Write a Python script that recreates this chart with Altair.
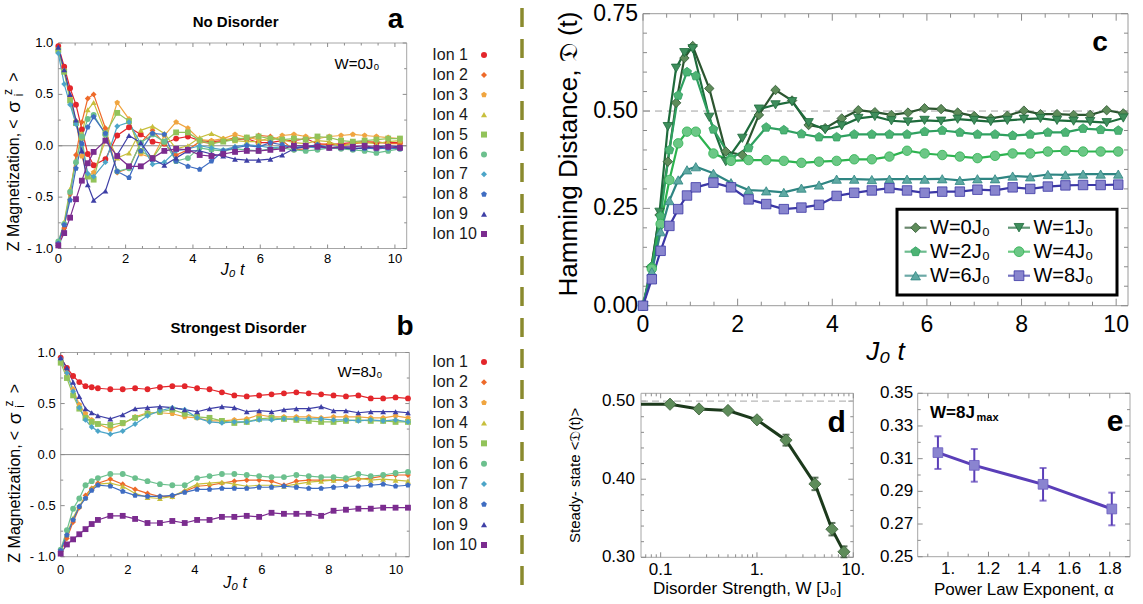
import altair as alt
import pandas as pd

FONT = "Liberation Sans"
W_PAGE, H_PAGE = 1143, 604

# ------------------------------------------------------------------ data
t_a = [0, 0.175, 0.35, 0.525, 0.7, 0.875, 1.05, 1.4, 1.75, 2.1, 2.45, 2.8, 3.15, 3.5, 3.85, 4.2,
       4.55, 4.9, 5.25, 5.6, 5.95, 6.3, 6.65, 7.0, 7.35, 7.7, 8.05, 8.4, 8.75, 9.1, 9.45, 9.8, 10.15]
t_b = [0, 0.185, 0.37, 0.555, 0.74, 0.925, 1.11, 1.48, 1.85, 2.22, 2.59, 2.96, 3.33, 3.70, 4.07, 4.44,
       4.81, 5.18, 5.55, 5.92, 6.29, 6.66, 7.03, 7.40, 7.77, 8.14, 8.51, 8.88, 9.25, 9.62, 9.99, 10.36]
t_c = [0, 0.186, 0.372, 0.558, 0.744, 0.93, 1.116, 1.488, 1.86, 2.232, 2.604, 2.976, 3.348, 3.72,
       4.092, 4.464, 4.836, 5.208, 5.58, 5.952, 6.324, 6.696, 7.068, 7.44, 7.812, 8.184, 8.556, 8.928,
       9.3, 9.672, 10.044]

ion_names = ["Ion 1", "Ion 2", "Ion 3", "Ion 4", "Ion 5", "Ion 6", "Ion 7", "Ion 8", "Ion 9", "Ion 10"]

# panel a : no disorder (W = 0 J0)
a_ion1 = [0.97, 0.77, 0.56, 0.40, 0.16, -0.08, -0.19, -0.13, 0.10, 0.18, 0.11, 0.04, 0.02, 0.07, 0.09, 0.05, 0.04,
          0.05, 0.06, 0.07, 0.03, 0.03, 0.05, 0.05, 0.07, 0.02, 0.01, 0.02, 0.03, 0.04, 0.03, 0.03, 0.03]
a_ion2 = [-0.97, -0.80, -0.47, -0.09, 0.23, 0.46, 0.50, 0.17, -0.26, -0.22, 0.03, 0.15, 0.02, -0.09, -0.04, 0.04, 0.02,
          0.05, 0.08, 0.06, 0.10, 0.09, 0.05, -0.04, -0.03, 0.01, 0.02, 0.01, 0.02, 0.03, 0.04, 0.02, 0.02]
a_ion3 = [0.92, 0.73, 0.47, 0.24, -0.10, -0.30, -0.26, 0.05, 0.42, 0.26, -0.08, -0.12, 0.10, 0.23, 0.17, 0.06, 0.05,
          0.07, 0.11, 0.08, 0.06, 0.05, 0.10, 0.11, 0.09, 0.07, 0.09, 0.10, 0.11, 0.10, 0.09, 0.08, 0.07]
a_ion4 = [-0.95, -0.74, -0.42, -0.15, 0.12, 0.35, 0.42, 0.13, -0.12, -0.07, 0.15, 0.19, 0.12, -0.03, 0.00, 0.08, 0.12,
          0.07, 0.05, 0.04, 0.04, 0.08, 0.06, 0.03, 0.02, 0.05, 0.04, -0.01, 0.03, 0.03, 0.02, 0.04, 0.05]
a_ion5 = [0.93, 0.72, 0.44, 0.22, 0.08, -0.30, -0.33, 0.12, 0.32, 0.24, -0.05, -0.12, 0.04, 0.13, 0.13, 0.05, 0.02,
          0.04, 0.06, 0.08, 0.09, 0.07, 0.06, 0.07, 0.06, 0.09, 0.08, 0.05, 0.04, 0.05, 0.06, 0.07, 0.07]
a_ion6 = [-0.93, -0.76, -0.45, -0.16, 0.09, 0.26, 0.30, 0.11, -0.25, -0.22, 0.03, 0.11, 0.04, -0.15, -0.12, -0.02, -0.04,
          -0.05, -0.03, -0.04, -0.05, -0.03, -0.02, -0.04, -0.05, -0.04, -0.02, -0.03, -0.04, -0.05, -0.07, -0.05, -0.03]
a_ion7 = [0.90, 0.60, 0.40, 0.21, 0.01, -0.27, -0.30, -0.16, 0.19, 0.23, 0.02, -0.18, -0.16, -0.05, -0.03, 0.00, -0.02,
          -0.04, -0.01, 0.01, 0.00, -0.02, -0.01, 0.00, -0.01, -0.02, -0.02, -0.01, -0.02, -0.03, -0.02, -0.03, -0.02]
a_ion8 = [-0.95, -0.77, -0.53, -0.22, 0.02, 0.18, 0.28, 0.12, -0.25, -0.31, -0.05, 0.12, 0.11, -0.15, -0.20, -0.23, -0.15,
          -0.05, -0.02, 0.00, -0.01, 0.03, 0.01, -0.02, -0.01, 0.01, -0.02, -0.01, -0.03, -0.02, -0.03, -0.02, -0.03]
a_ion9 = [0.96, 0.74, 0.50, 0.25, -0.05, -0.38, -0.53, -0.44, -0.09, 0.10, 0.03, -0.13, -0.19, -0.12, -0.05, -0.05, -0.08,
          -0.10, -0.13, -0.14, -0.14, -0.13, -0.09, -0.03, -0.01, 0.00, -0.02, -0.02, -0.03, -0.02, -0.01, 0.00, -0.01]
a_ion10 = [-0.97, -0.85, -0.70, -0.52, -0.34, -0.17, -0.06, 0.05, -0.10, -0.20, -0.20, -0.12, -0.05, -0.03, -0.04, -0.09,
           -0.10, -0.08, -0.06, -0.05, -0.05, -0.04, -0.03, 0.00, 0.00, -0.01, -0.02, -0.01, -0.01, 0.00, -0.02, -0.01, -0.02]

# panel b : strongest disorder (W = 8 J0)
b_ion1 = [0.95, 0.85, 0.77, 0.71, 0.67, 0.66, 0.65, 0.64, 0.64, 0.65, 0.64, 0.66, 0.67, 0.67, 0.65, 0.64,
          0.61, 0.58, 0.57, 0.58, 0.59, 0.60, 0.61, 0.60, 0.59, 0.58, 0.57, 0.58, 0.55, 0.55, 0.56, 0.55]
b_ion2 = [-0.95, -0.82, -0.66, -0.52, -0.40, -0.33, -0.28, -0.24, -0.29, -0.34, -0.38, -0.41, -0.41, -0.36, -0.31, -0.30,
          -0.28, -0.26, -0.25, -0.25, -0.26, -0.30, -0.26, -0.25, -0.25, -0.25, -0.25, -0.24, -0.23, -0.21, -0.20, -0.20]
b_ion3 = [0.92, 0.80, 0.64, 0.49, 0.40, 0.34, 0.30, 0.25, 0.30, 0.37, 0.41, 0.41, 0.40, 0.37, 0.36, 0.33,
          0.33, 0.34, 0.35, 0.39, 0.37, 0.37, 0.37, 0.37, 0.36, 0.37, 0.37, 0.37, 0.36, 0.36, 0.38, 0.36]
b_ion4 = [-0.93, -0.78, -0.62, -0.50, -0.42, -0.33, -0.29, -0.28, -0.31, -0.38, -0.42, -0.43, -0.41, -0.35, -0.29, -0.28,
          -0.27, -0.29, -0.31, -0.30, -0.30, -0.31, -0.29, -0.27, -0.26, -0.25, -0.24, -0.23, -0.25, -0.24, -0.25, -0.26]
b_ion5 = [0.90, 0.75, 0.58, 0.45, 0.36, 0.32, 0.30, 0.29, 0.31, 0.36, 0.40, 0.42, 0.44, 0.40, 0.37, 0.36,
          0.33, 0.31, 0.32, 0.35, 0.36, 0.35, 0.34, 0.33, 0.32, 0.32, 0.33, 0.34, 0.33, 0.33, 0.32, 0.32]
b_ion6 = [-0.93, -0.74, -0.53, -0.43, -0.30, -0.26, -0.23, -0.19, -0.19, -0.23, -0.26, -0.29, -0.30, -0.30, -0.23, -0.21,
          -0.19, -0.19, -0.20, -0.21, -0.22, -0.22, -0.20, -0.21, -0.22, -0.22, -0.23, -0.19, -0.21, -0.20, -0.18, -0.17]
b_ion7 = [0.94, 0.80, 0.62, 0.46, 0.34, 0.27, 0.23, 0.20, 0.23, 0.30, 0.38, 0.43, 0.46, 0.44, 0.36, 0.32,
          0.31, 0.32, 0.32, 0.34, 0.34, 0.35, 0.35, 0.35, 0.35, 0.34, 0.34, 0.33, 0.34, 0.33, 0.34, 0.32]
b_ion8 = [-0.94, -0.79, -0.64, -0.51, -0.43, -0.35, -0.30, -0.31, -0.36, -0.40, -0.41, -0.41, -0.40, -0.37, -0.34, -0.34,
          -0.33, -0.33, -0.33, -0.32, -0.32, -0.31, -0.32, -0.33, -0.33, -0.32, -0.31, -0.31, -0.30, -0.29, -0.31, -0.30]
b_ion9 = [0.95, 0.85, 0.71, 0.57, 0.45, 0.41, 0.38, 0.35, 0.39, 0.45, 0.46, 0.47, 0.46, 0.44, 0.42, 0.45,
          0.47, 0.46, 0.42, 0.43, 0.42, 0.44, 0.45, 0.45, 0.47, 0.43, 0.43, 0.41, 0.42, 0.42, 0.42, 0.41]
b_ion10 = [-0.97, -0.88, -0.83, -0.78, -0.73, -0.68, -0.64, -0.60, -0.60, -0.63, -0.67, -0.67, -0.65, -0.67, -0.64, -0.64,
           -0.61, -0.61, -0.60, -0.61, -0.57, -0.58, -0.58, -0.58, -0.60, -0.55, -0.54, -0.53, -0.53, -0.52, -0.52, -0.52]

# panel c : Hamming distance
c_W0 = [0, 0.10, 0.233, 0.37, 0.521, 0.636, 0.667, 0.558, 0.396, 0.387, 0.49, 0.554, 0.527, 0.464, 0.456, 0.481, 0.502,
        0.497, 0.49, 0.496, 0.507, 0.505, 0.496, 0.487, 0.481, 0.488, 0.501, 0.492, 0.492, 0.49, 0.49, 0.502, 0.494]
c_W1 = [0, 0.09, 0.24, 0.46, 0.61, 0.65, 0.66, 0.484, 0.37, 0.43, 0.505, 0.516, 0.524, 0.47, 0.452, 0.462, 0.481,
        0.486, 0.475, 0.472, 0.476, 0.474, 0.479, 0.476, 0.473, 0.476, 0.479, 0.481, 0.476, 0.474, 0.473, 0.47, 0.482]
c_W2 = [0, 0.10, 0.23, 0.40, 0.54, 0.60, 0.59, 0.453, 0.379, 0.405, 0.458, 0.451, 0.441, 0.433, 0.433, 0.44,
        0.44, 0.44, 0.44, 0.447, 0.45, 0.445, 0.44, 0.44, 0.437, 0.44, 0.445, 0.445, 0.455, 0.452, 0.45]
c_W4 = [0, 0.095, 0.21, 0.323, 0.417, 0.447, 0.447, 0.391, 0.372, 0.374, 0.374, 0.372, 0.367, 0.37, 0.372, 0.376,
        0.376, 0.383, 0.398, 0.391, 0.387, 0.383, 0.379, 0.385, 0.391, 0.391, 0.396, 0.398, 0.396, 0.396, 0.396]
c_W6 = [0, 0.087, 0.19, 0.27, 0.323, 0.349, 0.357, 0.34, 0.316, 0.297, 0.295, 0.291, 0.302, 0.31, 0.325, 0.325,
        0.324, 0.325, 0.325, 0.325, 0.326, 0.322, 0.326, 0.326, 0.333, 0.331, 0.337, 0.336, 0.338, 0.338, 0.338]
c_W8 = [0.0, 0.068, 0.141, 0.205, 0.248, 0.283, 0.304, 0.316, 0.304, 0.273, 0.261, 0.248, 0.252, 0.259, 0.282, 0.29,
        0.296, 0.302, 0.296, 0.29, 0.293, 0.293, 0.298, 0.296, 0.304, 0.30, 0.306, 0.309, 0.31, 0.31, 0.311]
c_labels = ["W=0J₀", "W=1J₀", "W=2J₀", "W=4J₀", "W=6J₀", "W=8J₀"]

# panel d : steady state vs disorder strength
d_W = [0.125, 0.25, 0.5, 1, 2, 4, 6, 8]
d_D = [0.496, 0.490, 0.488, 0.476, 0.450, 0.394, 0.336, 0.307]
d_err = [0.002, 0.002, 0.002, 0.003, 0.007, 0.008, 0.008, 0.007]
d_W0_value = 0.496          # W = 0 value, drawn from the left edge of the log axis

# panel e : steady state vs power law exponent
e_alpha = [0.95, 1.13, 1.47, 1.81]
e_D = [0.3137, 0.3059, 0.2943, 0.2792]
e_err = [0.010, 0.010, 0.010, 0.010]

# tick values / labels
ab_xticks = [0, 2, 4, 6, 8, 10]
ab_xminor = [0.5, 1, 1.5, 2.5, 3, 3.5, 4.5, 5, 5.5, 6.5, 7, 7.5, 8.5, 9, 9.5]
ab_yticks = [-1, -0.5, 0, 0.5, 1]
ab_yminor = [-0.75, -0.25, 0.25, 0.75]
c_yticks = [0, 0.25, 0.5, 0.75]
c_yminor = [0.05, 0.1, 0.15, 0.2, 0.3, 0.35, 0.4, 0.45, 0.55, 0.6, 0.65, 0.7]
d_xticks = [0.1, 1, 10]
d_xminor = [0.07, 0.08, 0.09, 0.2, 0.3, 0.4, 0.5, 0.6, 0.7, 0.8, 0.9, 2, 3, 4, 5, 6, 7, 8, 9]
d_yticks = [0.3, 0.4, 0.5]
d_yminor = [0.32, 0.34, 0.36, 0.38, 0.42, 0.44, 0.46, 0.48]
e_xticks = [1.0, 1.2, 1.4, 1.6, 1.8]
e_xminor = [0.9, 1.1, 1.3, 1.5, 1.7]
e_yticks = [0.25, 0.27, 0.29, 0.31, 0.33, 0.35]
e_yminor = [0.26, 0.28, 0.30, 0.32, 0.34]

# ------------------------------------------------------------------ styles
PENT = "M0,-1L0.951,-0.309L0.588,0.809L-0.588,0.809L-0.951,-0.309Z"
ion_colors = ["#E3262B", "#EE6A2A", "#F0A540", "#C7BF3C", "#92C35A",
              "#6CC08E", "#4CA5C8", "#3F6DC2", "#3E3FA6", "#7B2C8F"]
ion_shapes = ["circle", "diamond", PENT, "triangle-up", "square",
              "circle", "diamond", PENT, "triangle-up", "square"]
c_line_cols = ["#2C5530", "#1E6B3C", "#2FA060", "#2DB34F", "#2E8582", "#3B37A5"]
c_fill_cols = ["#5E8C5A", "#3E8E5C", "#4DB374", "#6CC786", "#5FA9A3", "#8885CE"]
c_shapes = ["diamond", "triangle-down", PENT, "circle", "triangle-up", "square"]

GA = dict(xl=58.3, xr=406.7, yt=43.0, yb=248.5, xd=[0, 10.35], yd=[-1, 1])
GB = dict(xl=60.7, xr=409.3, yt=352.5, yb=556.7, xd=[0, 10.4], yd=[-1, 1])
GC = dict(xl=643.0, xr=1128.0, yt=13.7, yb=305.7, xd=[0, 10.25], yd=[0, 0.75])
GD = dict(xl=641.0, xr=853.3, yt=393.3, yb=557.3, xd=[0.0625, 10], yd=[0.30, 0.51])
GE = dict(xl=917.7, xr=1130.0, yt=393.3, yb=556.7, xd=[0.85, 1.9], yd=[0.25, 0.35])

one = pd.DataFrame({"k": [0]})


def lin(dom, rng):
    return alt.Scale(type="linear", domain=dom, range=rng, nice=False, zero=False)


def xsc(g, typ="linear"):
    if typ == "log":
        return alt.Scale(type="log", domain=g["xd"], range=[g["xl"], g["xr"]], nice=False)
    return lin(g["xd"], [g["xl"], g["xr"]])


def ysc(g):
    return lin(g["yd"], [g["yb"], g["yt"]])


def frame_ticks(g, xs, ys, xmaj, xmin, ymaj, ymin, lmaj, lmin, fcol="#A6A6A6", tcol="#8C8C8C"):
    layers = [alt.Chart(one).mark_rect(fillOpacity=0, stroke=fcol, strokeWidth=1).encode(
        x=alt.value(g["xl"]), x2=alt.value(g["xr"]), y=alt.value(g["yt"]), y2=alt.value(g["yb"]))]
    for vals, L in [(xmaj, lmaj), (xmin, lmin)]:
        base = alt.Chart(pd.DataFrame({"v": vals})).mark_rule(color=tcol, strokeWidth=1)
        xe = alt.X("v:Q", scale=xs, axis=None)
        layers.append(base.encode(x=xe, y=alt.value(g["yb"]), y2=alt.value(g["yb"] - L)))
        layers.append(base.encode(x=xe, y=alt.value(g["yt"]), y2=alt.value(g["yt"] + L)))
    for vals, L in [(ymaj, lmaj), (ymin, lmin)]:
        base = alt.Chart(pd.DataFrame({"v": vals})).mark_rule(color=tcol, strokeWidth=1)
        ye = alt.Y("v:Q", scale=ys, axis=None)
        layers.append(base.encode(y=ye, x=alt.value(g["xl"]), x2=alt.value(g["xl"] + L)))
        layers.append(base.encode(y=ye, x=alt.value(g["xr"]), x2=alt.value(g["xr"] - L)))
    return layers


def xlabels(g, xs, values, labels, fs, off):
    df = pd.DataFrame({"v": values, "lab": labels})
    return alt.Chart(df).mark_text(fontSize=fs, font=FONT, align="center", baseline="middle",
                                   color="black").encode(
        x=alt.X("v:Q", scale=xs, axis=None), y=alt.value(g["yb"] + off), text="lab:N")


def ylabels(g, ys, values, labels, fs, pad):
    df = pd.DataFrame({"v": values, "lab": labels})
    return alt.Chart(df).mark_text(fontSize=fs, font=FONT, align="right", baseline="middle",
                                   color="black").encode(
        y=alt.Y("v:Q", scale=ys, axis=None), x=alt.value(g["xl"] - pad), text="lab:N")


def txt(s, x, y, size, weight="normal", style="normal", align="center", color="black", angle=0):
    return alt.Chart(one).mark_text(text=s, fontSize=size, fontWeight=weight, fontStyle=style, align=align,
                                    baseline="middle", color=color, font=FONT, angle=angle).encode(
        x=alt.value(x), y=alt.value(y))


def pm_label(v):
    return "- " + f"{-v:.1f}" if v < 0 else f"{v:.1f}"


def magnetization_title(x, dy):
    """Vertical title 'Z Magnetization, <sigma_i^z>' built from pieces (bottom to top)."""
    return [
        txt("Z Magnetization,", x, 192 + dy, 16, angle=270),
        txt("<", x, 124 + dy, 16, angle=270),
        txt("σ", x, 107 + dy, 19, angle=270),
        txt("z", x - 6, 92 + dy, 12, angle=270),
        txt("i", x + 5, 95 + dy, 12, angle=270),
        txt(">", x, 77 + dy, 16, angle=270),
    ]


def ion_panel(g, t, series, lab_off):
    rows = []
    for i, vals in enumerate(series):
        for tt, v in zip(t, vals):
            rows.append(dict(t=tt, v=v, ion=ion_names[i], col=ion_colors[i], shp=ion_shapes[i]))
    df = pd.DataFrame(rows)
    xs, ys = xsc(g), ysc(g)
    layers = frame_ticks(g, xs, ys, ab_xticks, ab_xminor, ab_yticks, ab_yminor, 4, 2.5)
    zero = alt.Chart(one).mark_rule(color="#8A8A8A", strokeWidth=1).encode(
        y=alt.YDatum(0, scale=ys, axis=None, type="quantitative"),
        x=alt.value(g["xl"]), x2=alt.value(g["xr"]))
    lines = alt.Chart(df).mark_line(strokeWidth=1.2).encode(
        x=alt.X("t:Q", scale=xs, axis=None), y=alt.Y("v:Q", scale=ys, axis=None),
        color=alt.Color("col:N", scale=None, legend=None), detail="ion:N")
    pts = alt.Chart(df).mark_point(filled=True, size=34, opacity=1).encode(
        x=alt.X("t:Q", scale=xs, axis=None), y=alt.Y("v:Q", scale=ys, axis=None),
        color=alt.Color("col:N", scale=None, legend=None),
        shape=alt.Shape("shp:N", scale=None, legend=None))
    xl = xlabels(g, xs, ab_xticks, [str(v) for v in ab_xticks], 13, lab_off)
    yl = ylabels(g, ys, ab_yticks, [pm_label(v) for v in ab_yticks], 13, 5)
    return alt.layer(*layers, zero, lines, pts, xl, yl)


def ion_legend(y_first, y_last):
    df = pd.DataFrame({"idx": list(range(1, 11)), "ion": ion_names, "col": ion_colors, "shp": ion_shapes})
    ys = lin([1, 10], [y_first, y_last])
    pts = alt.Chart(df).mark_point(filled=True, size=36, opacity=1).encode(
        x=alt.value(484), y=alt.Y("idx:Q", scale=ys, axis=None),
        color=alt.Color("col:N", scale=None, legend=None),
        shape=alt.Shape("shp:N", scale=None, legend=None))
    tx = alt.Chart(df).mark_text(align="left", baseline="middle", fontSize=16, font=FONT, color="#1A1A1A").encode(
        x=alt.value(432.3), y=alt.Y("idx:Q", scale=ys, axis=None), text="ion:N")
    return alt.layer(pts, tx)


panel_a = ion_panel(GA, t_a, [a_ion1, a_ion2, a_ion3, a_ion4, a_ion5, a_ion6, a_ion7, a_ion8, a_ion9, a_ion10], 10.5)
panel_b = ion_panel(GB, t_b, [b_ion1, b_ion2, b_ion3, b_ion4, b_ion5, b_ion6, b_ion7, b_ion8, b_ion9, b_ion10], 13.3)
legend_a = ion_legend(55, 234)
legend_b = ion_legend(362, 545)

texts_ab = [
    txt("No Disorder", 235.6, 21.7, 15, weight="bold"),
    txt("a", 395.5, 19.5, 28, weight="bold"),
    txt("W=0J₀", 357, 64, 15),
    *magnetization_title(14, 0),
    txt("J₀ t", (GA["xl"] + GA["xr"]) / 2, 270, 16, style="italic"),
    txt("Strongest Disorder", 238.3, 328.3, 15, weight="bold"),
    txt("b", 405, 326.7, 28, weight="bold"),
    txt("W=8J₀", 360, 371.7, 15),
    *magnetization_title(15, GB["yt"] - GA["yt"] + 2),
    txt("J₀ t", (GB["xl"] + GB["xr"]) / 2, 583.3, 16, style="italic"),
]

# ------------------------------------------------------------------ panel c
c_series = [(t_a, c_W0), (t_a, c_W1), (t_c, c_W2), (t_c, c_W4), (t_c, c_W6), (t_c, c_W8)]
rows = []
for i, (tt, vals) in enumerate(c_series):
    for t, v in zip(tt, vals):
        rows.append(dict(t=t, v=v, s=c_labels[i], lcol=c_line_cols[i], pcol=c_fill_cols[i], shp=c_shapes[i]))
df_c = pd.DataFrame(rows)
xs_c, ys_c = xsc(GC), ysc(GC)
c_layers = frame_ticks(GC, xs_c, ys_c, ab_xticks, ab_xminor, c_yticks, c_yminor, 7, 4,
                       fcol="#9A9A9A", tcol="#8A8A8A")
c_half = alt.Chart(one).mark_rule(color="#A0A0A0", strokeWidth=1, strokeDash=[7, 5]).encode(
    y=alt.YDatum(0.5, scale=ys_c, axis=None, type="quantitative"),
    x=alt.value(GC["xl"]), x2=alt.value(GC["xr"]))
c_lines = alt.Chart(df_c).mark_line(strokeWidth=2.2).encode(
    x=alt.X("t:Q", scale=xs_c, axis=None), y=alt.Y("v:Q", scale=ys_c, axis=None),
    color=alt.Color("lcol:N", scale=None, legend=None), detail="s:N")
c_pts = alt.Chart(df_c).mark_point(filled=True, size=90, opacity=1, strokeWidth=0.8).encode(
    x=alt.X("t:Q", scale=xs_c, axis=None), y=alt.Y("v:Q", scale=ys_c, axis=None),
    fill=alt.Fill("pcol:N", scale=None, legend=None), stroke=alt.Stroke("lcol:N", scale=None, legend=None),
    shape=alt.Shape("shp:N", scale=None, legend=None))
c_xl = xlabels(GC, xs_c, ab_xticks, [str(v) for v in ab_xticks], 23, 19.3)
c_yl = ylabels(GC, ys_c, c_yticks, [f"{v:.2f}" for v in c_yticks], 23, 5)
panel_c = alt.layer(*c_layers, c_half, c_lines, c_pts, c_xl, c_yl)

leg_df = pd.DataFrame({"label": c_labels, "ci": [0, 1, 0, 1, 0, 1], "ri": [0, 0, 1, 1, 2, 2],
                       "lcol": c_line_cols, "pcol": c_fill_cols, "shp": c_shapes})
lx = lin([0, 1], [915.6, 1019])
ly = lin([0, 2], [227.7, 275.7])
leg_box = alt.Chart(one).mark_rect(fill="white", stroke="black", strokeWidth=3).encode(
    x=alt.value(897), x2=alt.value(1117), y=alt.value(209.3), y2=alt.value(295))
leg_seg = alt.Chart(leg_df).mark_tick(orient="horizontal", size=22, thickness=2.2).encode(
    x=alt.X("ci:Q", scale=lx, axis=None), y=alt.Y("ri:Q", scale=ly, axis=None),
    color=alt.Color("lcol:N", scale=None, legend=None))
leg_pts = alt.Chart(leg_df).mark_point(filled=True, size=95, opacity=1, strokeWidth=0.8).encode(
    x=alt.X("ci:Q", scale=lx, axis=None), y=alt.Y("ri:Q", scale=ly, axis=None),
    fill=alt.Fill("pcol:N", scale=None, legend=None), stroke=alt.Stroke("lcol:N", scale=None, legend=None),
    shape=alt.Shape("shp:N", scale=None, legend=None))
leg_txt = alt.Chart(leg_df).mark_text(align="left", baseline="middle", dx=14.4, fontSize=20, font=FONT,
                                      color="black").encode(
    x=alt.X("ci:Q", scale=lx, axis=None), y=alt.Y("ri:Q", scale=ly, axis=None), text="label:N")
legend_c = alt.layer(leg_box, leg_seg, leg_pts, leg_txt)

# ------------------------------------------------------------------ panel d
xs_d, ys_d = xsc(GD, "log"), ysc(GD)
d_layers = frame_ticks(GD, xs_d, ys_d, d_xticks, d_xminor, d_yticks, d_yminor, 5, 3)
df_d = pd.DataFrame({"W": d_W, "D": d_D, "lo": [a - b for a, b in zip(d_D, d_err)],
                     "hi": [a + b for a, b in zip(d_D, d_err)]})
df_dline = pd.DataFrame({"W": [GD["xd"][0]] + d_W, "D": [d_W0_value] + d_D})
d_half = alt.Chart(one).mark_rule(color="#B8B8B8", strokeWidth=1.3, strokeDash=[7, 4]).encode(
    y=alt.YDatum(0.5, scale=ys_d, axis=None, type="quantitative"),
    x=alt.value(GD["xl"]), x2=alt.value(GD["xr"]))
d_line = alt.Chart(df_dline).mark_line(color="#1C3A1C", strokeWidth=3).encode(
    x=alt.X("W:Q", scale=xs_d, axis=None), y=alt.Y("D:Q", scale=ys_d, axis=None))
d_err_r = alt.Chart(df_d).mark_rule(color="#1C3A1C", strokeWidth=2).encode(
    x=alt.X("W:Q", scale=xs_d, axis=None), y=alt.Y("lo:Q", scale=ys_d, axis=None), y2="hi:Q")
d_cap_lo = alt.Chart(df_d).mark_tick(orient="horizontal", size=7, thickness=2, color="#1C3A1C").encode(
    x=alt.X("W:Q", scale=xs_d, axis=None), y=alt.Y("lo:Q", scale=ys_d, axis=None))
d_cap_hi = alt.Chart(df_d).mark_tick(orient="horizontal", size=7, thickness=2, color="#1C3A1C").encode(
    x=alt.X("W:Q", scale=xs_d, axis=None), y=alt.Y("hi:Q", scale=ys_d, axis=None))
d_pts = alt.Chart(df_d).mark_point(filled=True, shape="diamond", size=150, opacity=1, fill="#5E8C5A",
                                   stroke="#3A5E38", strokeWidth=0.8).encode(
    x=alt.X("W:Q", scale=xs_d, axis=None), y=alt.Y("D:Q", scale=ys_d, axis=None))
d_xl = xlabels(GD, xs_d, d_xticks, ["0.1", "1.", "10."], 17, 12.7)
d_yl = ylabels(GD, ys_d, d_yticks, [f"{v:.2f}" for v in d_yticks], 17, 6)
panel_d = alt.layer(*d_layers, d_half, d_line, d_err_r, d_cap_lo, d_cap_hi, d_pts, d_xl, d_yl)

# ------------------------------------------------------------------ panel e
xs_e, ys_e = xsc(GE), ysc(GE)
e_layers = frame_ticks(GE, xs_e, ys_e, e_xticks, e_xminor, e_yticks, e_yminor, 5, 3)
df_e = pd.DataFrame({"a": e_alpha, "D": e_D, "lo": [a - b for a, b in zip(e_D, e_err)],
                     "hi": [a + b for a, b in zip(e_D, e_err)]})
e_line = alt.Chart(df_e).mark_line(color="#5A3EB8", strokeWidth=3).encode(
    x=alt.X("a:Q", scale=xs_e, axis=None), y=alt.Y("D:Q", scale=ys_e, axis=None))
e_err_r = alt.Chart(df_e).mark_rule(color="#5A3EB8", strokeWidth=2).encode(
    x=alt.X("a:Q", scale=xs_e, axis=None), y=alt.Y("lo:Q", scale=ys_e, axis=None), y2="hi:Q")
e_cap_lo = alt.Chart(df_e).mark_tick(orient="horizontal", size=7, thickness=2, color="#5A3EB8").encode(
    x=alt.X("a:Q", scale=xs_e, axis=None), y=alt.Y("lo:Q", scale=ys_e, axis=None))
e_cap_hi = alt.Chart(df_e).mark_tick(orient="horizontal", size=7, thickness=2, color="#5A3EB8").encode(
    x=alt.X("a:Q", scale=xs_e, axis=None), y=alt.Y("hi:Q", scale=ys_e, axis=None))
e_pts = alt.Chart(df_e).mark_point(filled=True, shape="square", size=95, opacity=1, fill="#8A84D0",
                                   stroke="#6A5CC0", strokeWidth=0.8).encode(
    x=alt.X("a:Q", scale=xs_e, axis=None), y=alt.Y("D:Q", scale=ys_e, axis=None))
e_xl = xlabels(GE, xs_e, e_xticks, ["1." if v == 1.0 else f"{v:.1f}" for v in e_xticks], 17, 12.7)
e_yl = ylabels(GE, ys_e, e_yticks, [f"{v:.2f}" for v in e_yticks], 17, 4.5)
panel_e = alt.layer(*e_layers, e_line, e_err_r, e_cap_lo, e_cap_hi, e_pts, e_xl, e_yl)

texts_cde = [
    txt("Hamming Distance, 𝔇 (t)", 569, 154, 26, angle=270),
    txt("J₀ t", (GC["xl"] + GC["xr"]) / 2, 351.7, 26, style="italic"),
    txt("c", 1100, 42.7, 28, weight="bold"),
    txt("Steady- state <𝔇(t)>", 575, (GD["yt"] + GD["yb"]) / 2, 15, angle=270),
    txt("Disorder Strength, W [J₀]", (GD["xl"] + GD["xr"]) / 2, 589.3, 17),
    txt("d", 836.7, 422.7, 30, weight="bold"),
    txt("Power Law Exponent, α", (GE["xl"] + GE["xr"]) / 2, 590, 17),
    txt("e", 1115, 421.7, 30, weight="bold"),
    txt("W=8J", 930, 412.7, 17, weight="bold", align="left"),
    txt("max", 976.5, 417.5, 11, weight="bold", align="left"),
]

separator = alt.Chart(one).mark_rule(color="#8A8A2E", strokeWidth=3.5, strokeDash=[19, 12]).encode(
    x=alt.value(522), y=alt.value(8), y2=alt.value(590))

chart = alt.layer(
    panel_a, legend_a, panel_b, legend_b, *texts_ab,
    panel_c, legend_c, panel_d, panel_e, *texts_cde, separator
).resolve_scale(x="independent", y="independent").properties(
    width=W_PAGE, height=H_PAGE, padding=0, autosize=alt.AutoSizeParams(type="none"), background="white"
).configure_view(strokeWidth=0)

chart.save("out.html", embed_options={"renderer": "svg", "actions": False})
